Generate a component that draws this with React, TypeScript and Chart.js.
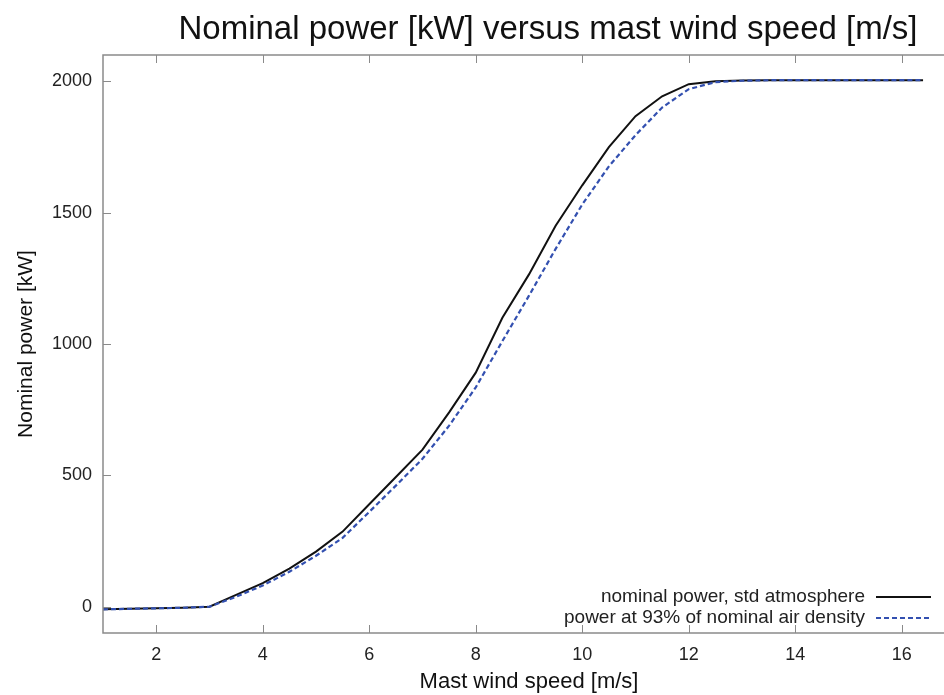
import React, { useEffect, useRef } from "react";
import { Chart, registerables } from "chart.js";

Chart.register(...registerables);

const windSpeed = [1, 1.5, 2, 2.5, 3, 3.5, 4, 4.5, 5, 5.5, 6, 6.5, 7, 7.5, 8, 8.5, 9, 9.5, 10, 10.5, 11, 11.5, 12, 12.5, 13, 13.5, 14, 14.5, 15, 15.5, 16, 16.4];
const nominalPower = [-10, -8, -6, -4, 0, 45, 90, 145, 210, 286, 390, 494, 598, 740, 891, 1100, 1265, 1450, 1604, 1749, 1867, 1943, 1989, 2000, 2003, 2004, 2004, 2004, 2004, 2004, 2004, 2004];
const reducedDensityPower = [-10, -8, -6, -4, 0, 38, 81, 133, 194, 262, 361, 461, 563, 689, 835, 1011, 1184, 1362, 1531, 1676, 1795, 1900, 1970, 1997, 2002, 2004, 2004, 2004, 2004, 2004, 2004, 2004];

const xTicks = [2, 4, 6, 8, 10, 12, 14, 16];
const yTicks = [0, 500, 1000, 1500, 2000];

const titleText = "Nominal power [kW] versus mast wind speed [m/s]";
const xTitle = "Mast wind speed [m/s]";
const yTitle = "Nominal power [kW]";
const seriesLabels = ["nominal power, std atmosphere", "power at 93% of nominal air density"];

const FONT = "'Liberation Sans', Arial, Helvetica, sans-serif";
const BLUE = "#3350b0";

const framePlugin = {
  id: "frame",
  afterDraw(chart: any) {
    const { ctx, chartArea: a, scales } = chart;
    const xs = scales.x;
    const ys = scales.y;
    ctx.save();
    ctx.strokeStyle = "#8a8a8a";
    ctx.lineWidth = 1.5;
    ctx.strokeRect(a.left, a.top, a.right - a.left, a.bottom - a.top);
    ctx.beginPath();
    const tl = 8;
    xTicks.forEach((v) => {
      const p = Math.round(xs.getPixelForValue(v)) + 0.5;
      ctx.moveTo(p, a.bottom);
      ctx.lineTo(p, a.bottom - tl);
      ctx.moveTo(p, a.top);
      ctx.lineTo(p, a.top + tl);
    });
    yTicks.forEach((v) => {
      const p = Math.round(ys.getPixelForValue(v)) + 0.5;
      ctx.moveTo(a.left, p);
      ctx.lineTo(a.left + tl, p);
      ctx.moveTo(a.right, p);
      ctx.lineTo(a.right - tl, p);
    });
    ctx.lineWidth = 1;
    ctx.stroke();

    // title
    ctx.fillStyle = "#111";
    ctx.font = `33px ${FONT}`;
    ctx.textAlign = "center";
    ctx.textBaseline = "middle";
    ctx.fillText(titleText, 548, 30);

    // legend
    ctx.font = `19px ${FONT}`;
    ctx.textAlign = "right";
    const sampleRight = a.right - 24;
    const sampleLeft = sampleRight - 55;
    const textRight = sampleLeft - 11;
    const rows = [a.bottom - 36, a.bottom - 15];
    const styles = [
      { color: "#111", dash: [] as number[] },
      { color: BLUE, dash: [5, 3] },
    ];
    rows.forEach((yy, i) => {
      ctx.fillStyle = "#222";
      ctx.fillText(seriesLabels[i], textRight, yy);
      ctx.beginPath();
      ctx.setLineDash(styles[i].dash);
      ctx.strokeStyle = styles[i].color;
      ctx.lineWidth = 2;
      ctx.moveTo(sampleLeft, yy);
      ctx.lineTo(sampleRight, yy);
      ctx.stroke();
    });
    ctx.restore();
  },
};

export default function App() {
  const canvasRef = useRef<HTMLCanvasElement>(null);

  useEffect(() => {
    if (!canvasRef.current) return;
    Chart.defaults.font.family = FONT;
    const chart = new Chart(canvasRef.current, {
      type: "line",
      data: {
        datasets: [
          {
            label: seriesLabels[0],
            data: windSpeed.map((x, i) => ({ x, y: nominalPower[i] })),
            borderColor: "#111",
            borderWidth: 2,
            pointRadius: 0,
            tension: 0,
            fill: false,
            order: 1,
          },
          {
            label: seriesLabels[1],
            data: windSpeed.map((x, i) => ({ x, y: reducedDensityPower[i] })),
            borderColor: BLUE,
            borderWidth: 2.2,
            borderDash: [5, 3],
            pointRadius: 0,
            tension: 0,
            fill: false,
            order: 0,
          },
        ],
      },
      options: {
        animation: false,
        responsive: true,
        maintainAspectRatio: false,
        layout: { padding: { top: 55, right: 5, left: 0, bottom: 0 } },
        plugins: {
          legend: { display: false },
          title: { display: false },
          tooltip: { enabled: false },
        },
        scales: {
          x: {
            type: "linear",
            min: 1,
            max: 17,
            afterBuildTicks: (s: any) => {
              s.ticks = xTicks.map((v) => ({ value: v }));
            },
            afterFit: (s: any) => {
              s.height = 62;
            },
            grid: { display: false, drawTicks: false },
            border: { display: false },
            ticks: { color: "#222", font: { size: 18 }, padding: 11, maxRotation: 0, callback: (v: any) => String(v) },
            title: {
              display: true,
              text: xTitle,
              color: "#111",
              font: { size: 22 },
              padding: { top: 0, bottom: 0 },
            },
          },
          y: {
            type: "linear",
            min: -100,
            max: 2100,
            afterBuildTicks: (s: any) => {
              s.ticks = yTicks.map((v) => ({ value: v }));
            },
            afterFit: (s: any) => {
              s.width = 103;
            },
            grid: { display: false, drawTicks: false },
            border: { display: false },
            ticks: { color: "#222", font: { size: 18 }, padding: 11, callback: (v: any) => String(v) },
            title: {
              display: true,
              text: yTitle,
              color: "#111",
              font: { size: 21 },
              padding: { top: 14, bottom: 0 },
            },
          },
        },
      },
      plugins: [framePlugin],
    });
    return () => chart.destroy();
  }, []);

  return (
    <div style={{ position: "fixed", left: 0, top: 0, width: 944, height: 695, overflow: "hidden", background: "#fff" }}>
      <div style={{ position: "absolute", left: 0, top: 0, width: 960, height: 695 }}>
        <canvas ref={canvasRef} />
      </div>
    </div>
  );
}
